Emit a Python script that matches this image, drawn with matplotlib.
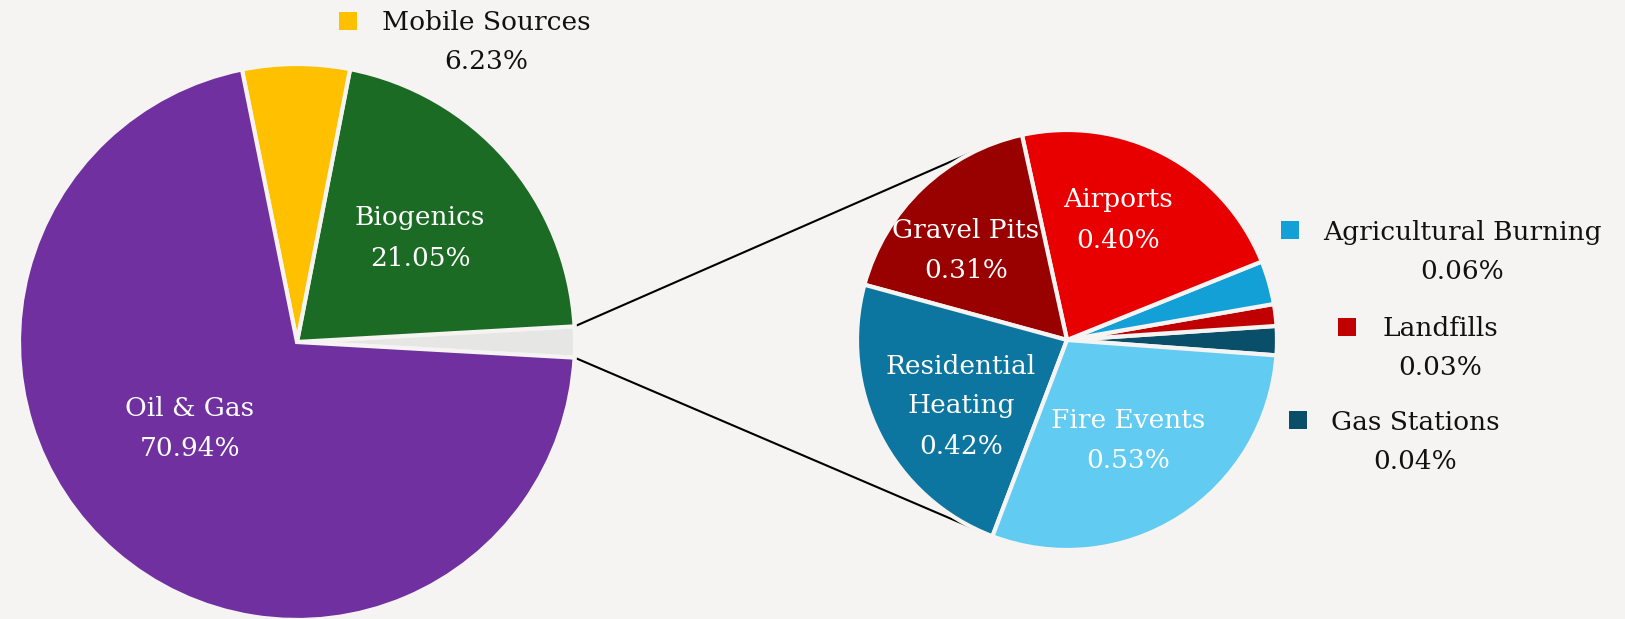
import matplotlib.pyplot as plt
import numpy as np

plt.rcParams["font.family"] = "DejaVu Serif"

# main pie (percent of total)
main_labels = ["Other", "Biogenics", "Mobile Sources", "Oil & Gas"]
main_values = [1.79, 21.05, 6.23, 70.94]
main_colors = ["#E6E6E5", "#1B6B24", "#FFC000", "#7030A0"]

# breakdown of the small sources
sub_labels = ["Gas Stations", "Landfills", "Agricultural Burning", "Airports",
              "Gravel Pits", "Residential Heating", "Fire Events"]
sub_values = [0.04, 0.03, 0.06, 0.40, 0.31, 0.42, 0.53]
sub_colors = ["#0A4F6A", "#C00000", "#12A0D7", "#E80000",
              "#990000", "#0D76A0", "#62CBF2"]

bg = "#F5F4F2"
H = 619

fig = plt.figure(figsize=(16.25, 6.19), dpi=100)
fig.patch.set_facecolor(bg)
ax = fig.add_axes([0, 0, 1, 1])
ax.set_facecolor(bg)

# left pie
start = -main_values[0] * 3.6 / 2
wl, _ = ax.pie(main_values, colors=main_colors, startangle=start,
               center=(297, H - 342), radius=278,
               explode=[6 / 278, 0, 0, 0],
               wedgeprops=dict(edgecolor=bg, linewidth=3))

# right pie
wr, _ = ax.pie(sub_values, colors=sub_colors, startangle=-4.2,
               center=(1067, H - 340), radius=210,
               wedgeprops=dict(edgecolor=bg, linewidth=3))

ax.set_xlim(0, 1625)
ax.set_ylim(0, H)
ax.set_aspect("equal")
ax.axis("off")

# connector lines
g = wl[0]
cx, cy = g.center
for th, th2 in [(g.theta2, 114), (g.theta1, 246)]:
    p1 = (cx + g.r * np.cos(np.radians(th)), cy + g.r * np.sin(np.radians(th)))
    p2 = (1067 + 210 * np.cos(np.radians(th2)), H - 340 + 210 * np.sin(np.radians(th2)))
    ax.plot([p1[0], p2[0]], [p1[1], p2[1]], color="black", lw=1.5, zorder=0)

fs = 19
ls = 1.75

def inside(x, y, txt):
    ax.text(x, H - y, txt, color="white", fontsize=fs, ha="center",
            va="center", linespacing=ls)

inside(190, 428, "Oil & Gas\n70.94%")
inside(420, 238, "Biogenics\n21.05%")
inside(966, 251, "Gravel Pits\n0.31%")
inside(1118, 220, "Airports\n0.40%")
inside(961, 406, "Residential\nHeating\n0.42%")
inside(1128, 441, "Fire Events\n0.53%")

def outside(sx, sy, tx, ty, txt, col):
    ax.scatter([sx], [H - sy], marker="s", s=180, color=col, linewidths=0)
    ax.text(tx, H - ty, txt, color="#111111", fontsize=fs, ha="center",
            va="center", linespacing=1.68)

outside(348, 21, 486, 42, "Mobile Sources\n6.23%", main_colors[2])
outside(1290, 230, 1462, 252, "Agricultural Burning\n0.06%", sub_colors[2])
outside(1347, 327, 1440, 348, "Landfills\n0.03%", sub_colors[1])
outside(1298, 420, 1415, 442, "Gas Stations\n0.04%", sub_colors[0])

plt.savefig("out.png", dpi=100, facecolor=bg)
